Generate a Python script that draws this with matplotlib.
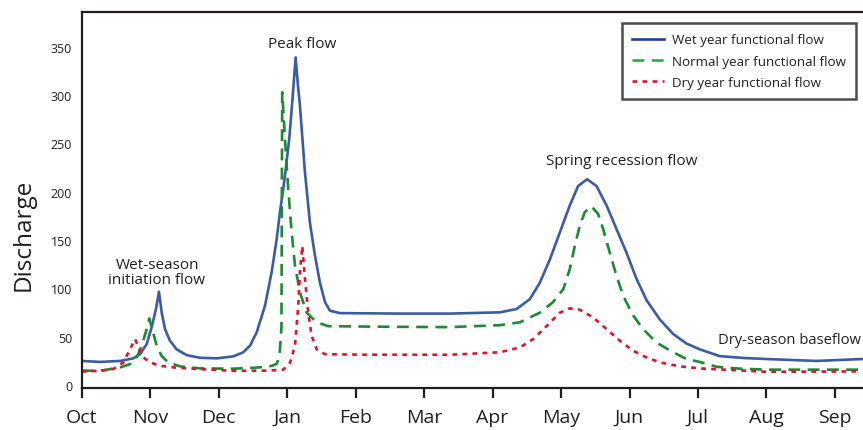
import matplotlib
matplotlib.use("Agg")
import matplotlib.pyplot as plt

# Month tick labels (water year)
months = ["Oct", "Nov", "Dec", "Jan", "Feb", "Mar", "Apr", "May", "Jun", "Jul", "Aug", "Sep"]
yticks = [0, 50, 100, 150, 200, 250, 300, 350]

# Wet year (x in months from Oct 1, discharge)
wet_x = [0.000, 0.267, 0.559, 0.753, 0.851, 0.949, 1.022, 1.085, 1.128, 1.168, 1.216, 1.288, 1.387,
         1.533, 1.727, 1.971, 2.213, 2.359, 2.457, 2.555, 2.676, 2.774, 2.847, 2.895, 2.943, 2.982,
         3.031, 3.077, 3.124, 3.158, 3.187, 3.260, 3.333, 3.406, 3.479, 3.552, 3.625, 3.771, 4.647,
         5.377, 6.107, 6.350, 6.545, 6.691, 6.837, 6.983, 7.128, 7.250, 7.381, 7.518, 7.664, 7.810,
         7.956, 8.102, 8.248, 8.442, 8.636, 8.832, 9.026, 9.318, 9.683, 10.004, 10.734, 11.391]
wet_y = [25, 24, 25, 27.7, 32, 42.5, 60, 79, 96.6, 75, 58, 46, 37,
         31, 28.3, 27.7, 29.7, 34, 40.7, 54.6, 82, 117, 151, 179, 203, 225,
         255, 295, 339, 310, 289, 220, 168, 134, 106, 86, 77, 74.5, 74,
         74, 75.3, 78.7, 89, 106, 130, 158, 186, 206, 213, 206, 186, 161.5,
         137, 110, 88, 68, 53, 43, 37, 30, 28, 27, 25, 27]

# Normal year
norm_x = [0.000, 0.267, 0.559, 0.705, 0.803, 0.876, 0.949, 0.987, 1.036, 1.095, 1.168, 1.264, 1.435,
          1.727, 2.209, 2.530, 2.701, 2.778, 2.847, 2.888, 2.917, 2.921, 2.924, 2.928, 2.968, 3.016,
          3.066, 3.114, 3.187, 3.285, 3.431, 3.600, 4.209, 5.377, 6.107, 6.399, 6.691, 6.885, 7.031,
          7.128, 7.201, 7.274, 7.347, 7.445, 7.542, 7.615, 7.712, 7.810, 7.907, 8.053, 8.199, 8.394,
          8.636, 8.832, 9.026, 9.270, 9.610, 10.004, 11.362]
norm_y = [15, 14.8, 18.3, 21.7, 28.7, 40.7, 58, 69, 56, 40.7, 30, 23.5, 19.4,
          17.3, 17, 18, 19, 20, 22, 30, 60, 150, 230, 303, 255, 203,
          158, 124, 96, 75, 65, 61, 60.5, 60, 62, 65, 75, 86, 99,
          120, 144, 165, 179, 185, 177, 161.5, 137, 113, 92.5, 72, 58, 44,
          34, 27, 24, 19, 17, 16, 16]

# Dry year
dry_x = [0.000, 0.267, 0.461, 0.607, 0.705, 0.778, 0.841, 0.899, 0.997, 1.143, 1.387, 1.727, 2.209,
         2.705, 2.943, 3.041, 3.114, 3.162, 3.187, 3.221, 3.260, 3.308, 3.358, 3.431, 3.552, 4.107,
         5.377, 6.107, 6.399, 6.593, 6.788, 6.983, 7.128, 7.274, 7.469, 7.664, 7.858, 8.053, 8.248,
         8.442, 8.734, 9.026, 10.004, 11.362]
dry_y = [14, 14.8, 16.6, 23.5, 37, 47.6, 37, 28.7, 23.5, 20, 18, 16.6, 14.8,
         15, 16, 23, 40.7, 82, 117, 144, 110, 75, 51, 37, 32, 31.5,
         31.4, 34, 39, 47.6, 61, 75, 79.4, 78, 70, 58, 46, 35.5, 28.7,
         23.5, 19.4, 17.3, 13.8, 14.2]

series_labels = ["Wet year functional flow", "Normal year functional flow", "Dry year functional flow"]

FONT = "Open Sans"
plt.rcParams["font.family"] = [FONT, "DejaVu Sans"]

fig = plt.figure(figsize=(8.63, 4.31), dpi=100)
ax = fig.add_axes([0.0947, 0.0974, 0.9053, 0.8724])

blue = "#3b5ba5"
green = "#1b8a35"
red = "#e3132b"

ax.plot(wet_x, wet_y, color=blue, lw=1.9, solid_joinstyle="round", label=series_labels[0])
ax.plot(norm_x, norm_y, color=green, lw=1.9, linestyle=(0, (4.5, 2.8)), label=series_labels[1])
ax.plot(dry_x, dry_y, color=red, lw=1.9, linestyle=(0, (1.8, 2.0)), label=series_labels[2])

ax.set_xlim(0, 11.41)
ax.set_ylim(-3, 386)

ax.set_xticks(range(len(months)))
ax.set_xticklabels(months, fontsize=14, color="#231f20")
ax.set_yticks(yticks)
ax.set_yticklabels([str(v) for v in yticks], fontsize=9, color="#231f20")
ax.tick_params(axis="x", direction="out", length=7.5, width=1.6, pad=7, color="#231f20")
ax.tick_params(axis="y", length=0, pad=7)

for s in ["left", "top", "bottom"]:
    ax.spines[s].set_linewidth(1.6)
    ax.spines[s].set_color("#231f20")
ax.spines["right"].set_visible(False)

fig.text(24 / 863, 1 - 235 / 431, "Discharge", rotation=90, fontsize=17.5,
         ha="center", va="center", color="#231f20")

txtc = "#231f20"
ax.text(3.22, 353, "Peak flow", fontsize=11, ha="center", va="center", color=txtc)
ax.text(1.10, 117, "Wet-season\ninitiation flow", fontsize=11, ha="center", va="center",
        color=txtc, linespacing=1.05)
ax.text(7.89, 232, "Spring recession flow", fontsize=11, ha="center", va="center", color=txtc)
ax.text(9.29, 47, "Dry-season baseflow", fontsize=10.6, ha="left", va="center", color=txtc)

leg = ax.legend(loc="upper right", bbox_to_anchor=(0.991, 0.97), borderaxespad=0,
                fontsize=9.6, frameon=True, fancybox=False, edgecolor="#231f20",
                handlelength=2.4, borderpad=0.75, labelspacing=0.62, handletextpad=0.6)
leg.get_frame().set_linewidth(1.8)
leg_colors = ["#1f3f96", "#2aa84a", "#e8112d"]
for h, c in zip(leg.get_lines(), leg_colors):
    h.set_color(c)
for t in leg.get_texts():
    t.set_color(txtc)

fig.savefig("out.png", dpi=100)
